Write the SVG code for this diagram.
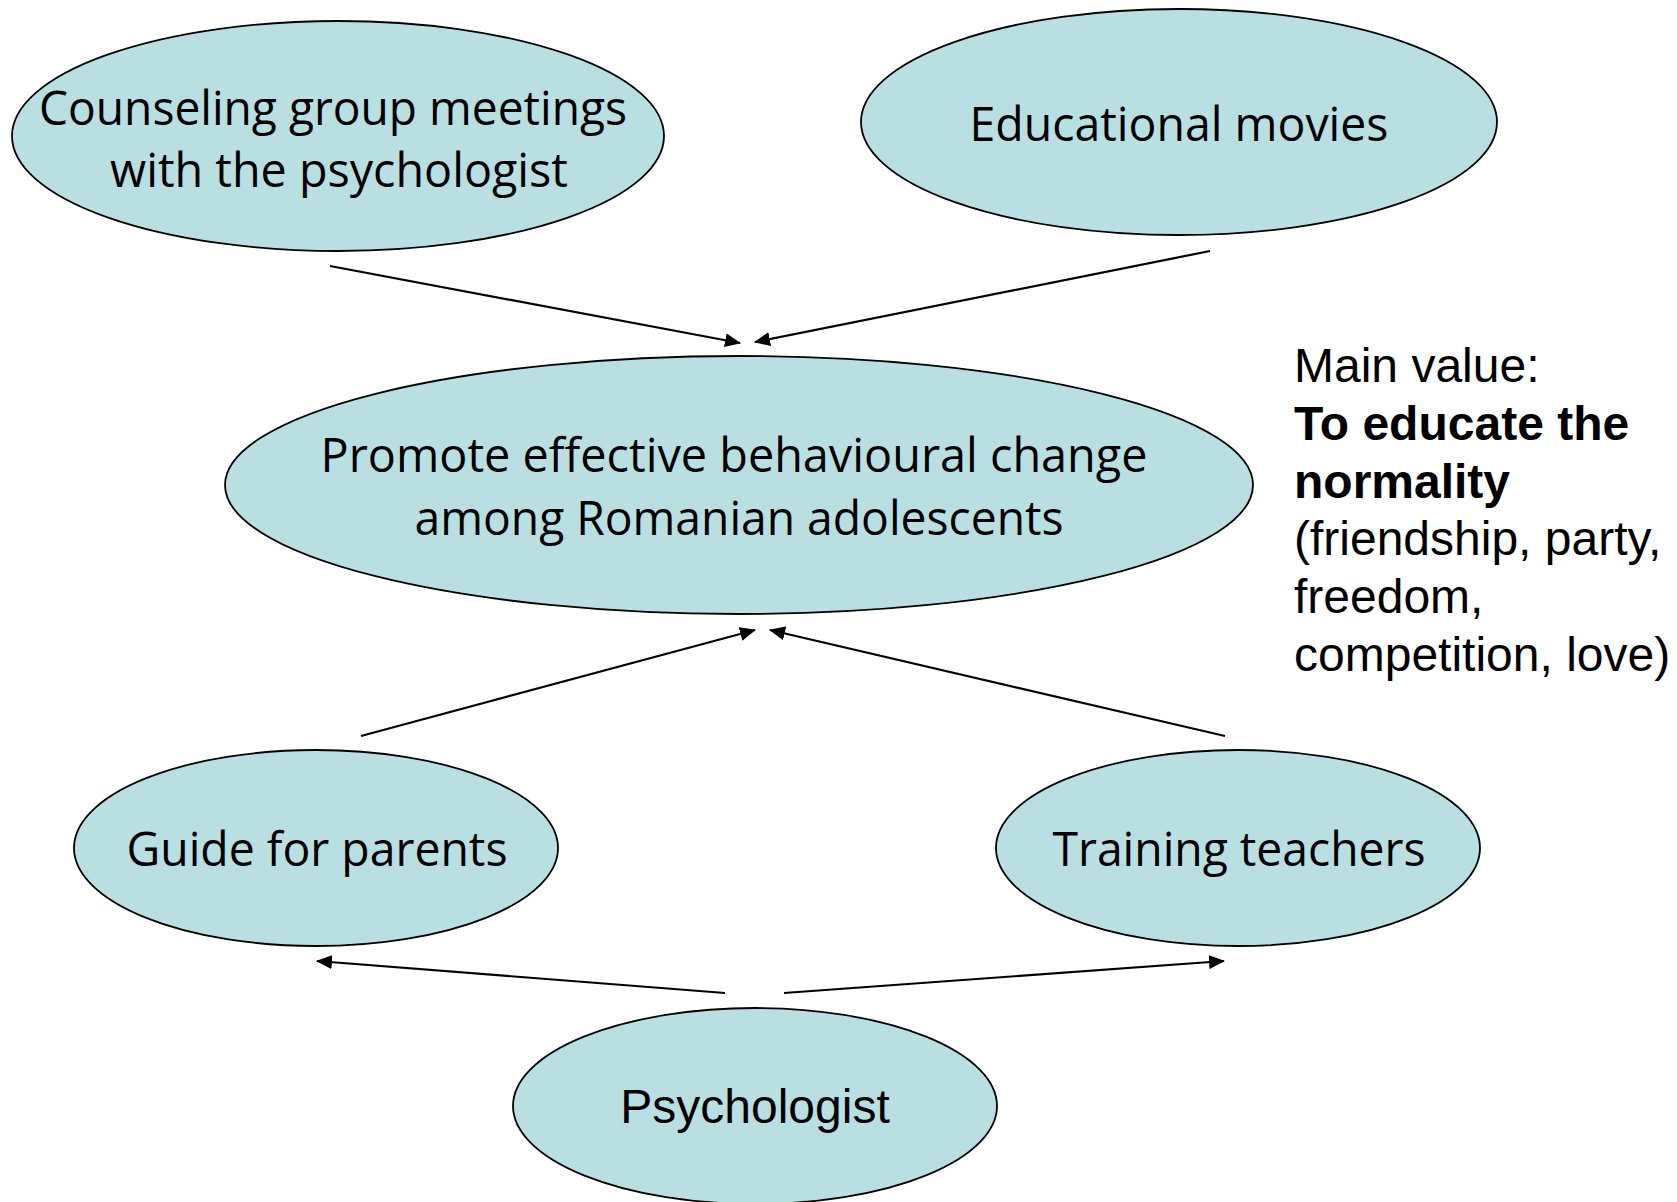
<svg xmlns="http://www.w3.org/2000/svg" width="1677" height="1202" viewBox="0 0 1677 1202">
<style>
.node{fill:#B9DFE3;stroke:#000;stroke-width:1.8}
.cal{font-family:"Open Sans","Noto Sans",sans-serif;font-size:48px;fill:#000;text-anchor:middle}
.ar{font-family:"Liberation Sans",Arial,sans-serif;font-size:48px;fill:#000}
.conn{stroke:#000;stroke-width:2.2;fill:none;marker-end:url(#ah)}
</style>
<defs>
<marker id="ah" markerWidth="16" markerHeight="14" refX="15" refY="7" orient="auto" markerUnits="userSpaceOnUse">
<path d="M0,0 L16,7 L0,14 Z" fill="#000"/>
</marker>
</defs>
<rect width="1677" height="1202" fill="#fff"/>
<g id="connectors">
<line class="conn" x1="330" y1="266" x2="740" y2="343"/>
<line class="conn" x1="1210" y1="251" x2="755" y2="342"/>
<line class="conn" x1="361" y1="736" x2="755" y2="630"/>
<line class="conn" x1="1225" y1="736" x2="770" y2="630"/>
<line class="conn" x1="725" y1="993" x2="317" y2="961"/>
<line class="conn" x1="784" y1="993" x2="1224" y2="961"/>
</g>
<g id="counseling">
<ellipse class="node" cx="338" cy="136" rx="326" ry="115"/>
<text class="cal" x="333" y="125" textLength="588" lengthAdjust="spacingAndGlyphs">Counseling group meetings</text>
<text class="cal" x="339" y="187" textLength="458" lengthAdjust="spacingAndGlyphs">with the psychologist</text>
</g>
<g id="movies">
<ellipse class="node" cx="1179" cy="122" rx="318" ry="113"/>
<text class="cal" x="1179" y="141" textLength="419" lengthAdjust="spacingAndGlyphs">Educational movies</text>
</g>
<g id="promote">
<ellipse class="node" cx="739" cy="485" rx="514" ry="129"/>
<text class="cal" x="734" y="472" textLength="827" lengthAdjust="spacingAndGlyphs">Promote effective behavioural change</text>
<text class="cal" x="739" y="535" textLength="649" lengthAdjust="spacingAndGlyphs">among Romanian adolescents</text>
</g>
<g id="parents">
<ellipse class="node" cx="316" cy="848" rx="242" ry="98"/>
<text class="cal" x="317" y="866" textLength="381" lengthAdjust="spacingAndGlyphs">Guide for parents</text>
</g>
<g id="teachers">
<ellipse class="node" cx="1238" cy="848" rx="242" ry="98"/>
<text class="cal" x="1239" y="866" textLength="373" lengthAdjust="spacingAndGlyphs">Training teachers</text>
</g>
<g id="psychologist">
<ellipse class="node" cx="755" cy="1106" rx="242" ry="98"/>
<text class="ar" x="755" y="1123" text-anchor="middle">Psychologist</text>
</g>
<g id="mainvalue">
<text class="ar" x="1294" y="382">Main value:</text>
<text class="ar" x="1294" y="440" font-weight="bold">To educate the</text>
<text class="ar" x="1294" y="498" font-weight="bold">normality</text>
<text class="ar" x="1294" y="555">(friendship, party,</text>
<text class="ar" x="1294" y="613">freedom,</text>
<text class="ar" x="1294" y="671">competition, love)</text>
</g>
</svg>
